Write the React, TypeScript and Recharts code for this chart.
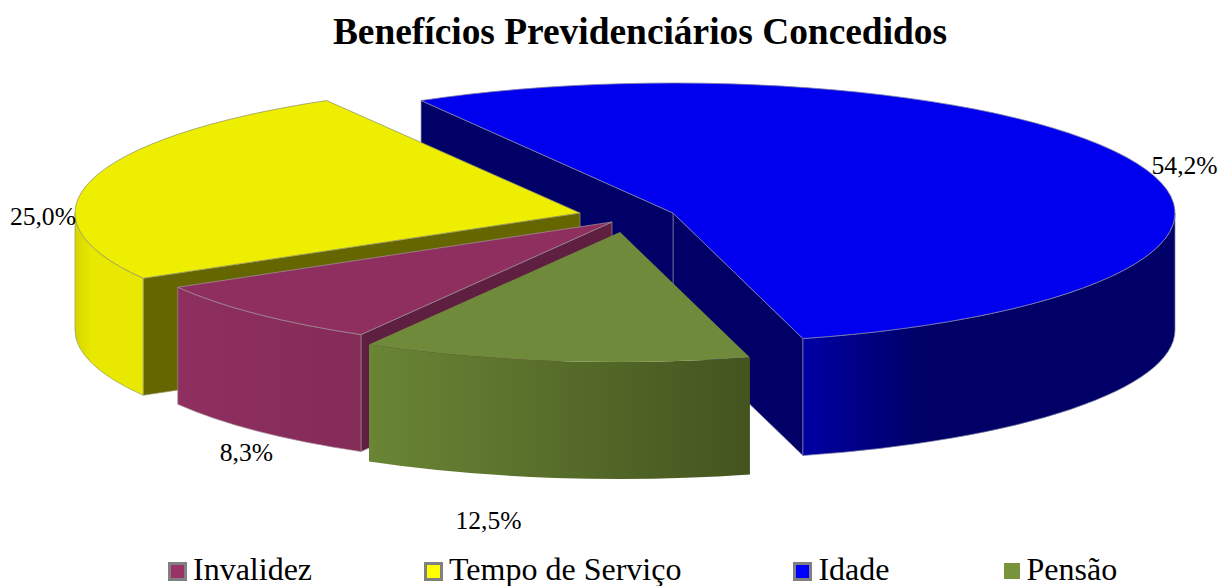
import { PieChart, Pie, Legend } from "recharts"

const categories = ["Idade", "Tempo de Serviço", "Invalidez", "Pensão"]
const percentages = [54.2, 25.0, 8.3, 12.5]
const legendOrder = ["Invalidez", "Tempo de Serviço", "Idade", "Pensão"]
const legendColors = ["#0000ff", "#ffff00", "#993366", "#77933c"]

const data = categories.map((name, i) => ({ name, value: percentages[i], legendColor: legendColors[i] }))

const FONT = "'Liberation Serif', 'Times New Roman', serif"
const RX = 502
const RY = 130
const DEPTH = 117

// per slice look: explosion offset, face colours and label nudge
const sliceStyle: Record<string, any> = {
  Idade: {
    dx: 33, dy: 0, rx: RX, top: "#0000ee", face: "#000066",
    wall: [[0, "#0000a4"], [0.32, "#000066"], [1, "#000066"]], labelDx: 48, labelDy: 2, edge: "#8080a8",
  },
  "Tempo de Serviço": {
    dx: -60, dy: 0, rx: 505, top: "#eeee00", face: "#666600",
    wall: [[0, "#d6d600"], [0.25, "#e8e800"], [1, "#e8e800"]], labelDx: -49, labelDy: 37, edge: "#999966",
  },
  Invalidez: {
    dx: -28, dy: 9, rx: RX, top: "#8e2f5f", face: "#5e1f40",
    wall: [[0, "#8e2f5f"], [1, "#852b58"]], labelDx: -11, labelDy: 138, edge: "#a08a96",
  },
  Pensão: {
    dx: -20, dy: 19, rx: RX, top: "#6f8a3a", face: "#4a5c26",
    wall: [[0, "#6a8535"], [1, "#44541f"]], labelDx: -66, labelDy: 160, edge: "none",
  },
}

const RAD = Math.PI / 180

function Wedge3D(props: any) {
  const { cx, cy, startAngle, endAngle, name } = props
  const s = sliceStyle[name]
  const ox = cx + s.dx
  const oy = cy + s.dy
  const rx = s.rx
  const pt = (a: number, drop = 0) => [ox + rx * Math.cos(a * RAD), oy - RY * Math.sin(a * RAD) + drop]
  const arc = (a: number, drop: number, sweep: number, large = 0) => {
    const [x, y] = pt(a, drop)
    return `A ${rx} ${RY} 0 ${large} ${sweep} ${x} ${y}`
  }
  const [sx, sy] = pt(startAngle)
  const large = endAngle - startAngle > 180 ? 1 : 0
  const topPath = `M ${ox} ${oy} L ${sx} ${sy} ${arc(endAngle, 0, 0, large)} Z`

  // the front half of the rim is what shows as the outer wall
  const walls: string[] = []
  for (const [lo, hi] of [[-180, 0], [180, 360]]) {
    const a1 = Math.max(lo, startAngle)
    const a2 = Math.min(hi, endAngle)
    if (a2 <= a1) continue
    const [x1, y1] = pt(a1)
    const [x2, y2] = pt(a2, DEPTH)
    const [x3, y3] = pt(a1, DEPTH)
    walls.push(`M ${x1} ${y1} ${arc(a2, 0, 0)} L ${x2} ${y2} A ${rx} ${RY} 0 0 1 ${x3} ${y3} Z`)
  }

  const radial = (a: number) => {
    const [x, y] = pt(a)
    return `M ${ox} ${oy} L ${x} ${y} L ${x} ${y + DEPTH} L ${ox} ${oy + DEPTH} Z`
  }
  const faces: string[] = []
  if (Math.cos(startAngle * RAD) > 0) faces.push(radial(startAngle))
  if (Math.cos(endAngle * RAD) < 0) faces.push(radial(endAngle))

  const gradId = `wall-${categories.indexOf(name)}`
  return (
    <g>
      <defs>
        <linearGradient id={gradId} x1="0" x2="1" y1="0" y2="0">
          {s.wall.map(([o, c]: any[]) => (
            <stop key={o} offset={o} stopColor={c} />
          ))}
        </linearGradient>
      </defs>
      {faces.map((d, i) => (
        <path key={i} d={d} fill={s.face} stroke={s.edge} strokeWidth={0.7} />
      ))}
      {walls.map((d, i) => (
        <path key={i} d={d} fill={`url(#${gradId})`} stroke={s.edge} strokeWidth={0.7} />
      ))}
      <path d={topPath} fill={s.top} stroke={s.edge} strokeWidth={0.8} />
    </g>
  )
}

function renderLabel(props: any) {
  const { cx, cy, midAngle, name, value } = props
  const s = sliceStyle[name]
  const x = cx + s.dx + s.rx * Math.cos(midAngle * RAD) + s.labelDx
  const y = cy + s.dy - RY * Math.sin(midAngle * RAD) + s.labelDy
  return (
    <text x={x} y={y} textAnchor="middle" dominantBaseline="central" fontFamily={FONT} fontSize={25.6} fill="#000">
      {value.toFixed(1).replace(".", ",") + "%"}
    </text>
  )
}

function LegendRow() {
  return (
    <div style={{ display: "flex", paddingLeft: 168, gap: 112, fontFamily: FONT, fontSize: 32, color: "#000", lineHeight: "36px" }}>
      {legendOrder.map((name) => {
        // Pensão has no grey frame in the original legend
        const framed = name !== "Pensão"
        return (
          <span key={name} style={{ display: "inline-flex", alignItems: "center" }}>
            <span
              style={{
                position: "relative",
                top: 2,
                width: framed ? 13 : 16,
                height: framed ? 13 : 16,
                border: framed ? "3px solid #808080" : "none",
                background: legendColors[categories.indexOf(name)],
                marginLeft: framed ? 0 : 3,
                marginRight: 6,
              }}
            />
            {name}
          </span>
        )
      })}
    </div>
  )
}

export default function App() {
  return (
    <div style={{ position: "absolute", left: 0, top: 0, width: 1221, height: 586, overflow: "hidden", background: "#fff" }}>
      <PieChart width={1221} height={586} margin={{ top: 0, right: 0, bottom: 0, left: 0 }}>
        <text x={640} y={31} textAnchor="middle" dominantBaseline="central" fontFamily={FONT} fontWeight="bold" fontSize={37.4}>
          Benefícios Previdenciários Concedidos
        </text>
        <Pie
          data={data}
          dataKey="value"
          nameKey="name"
          cx={640}
          cy={213}
          outerRadius={RX}
          startAngle={-75}
          endAngle={285}
          stroke="none"
          isAnimationActive={false}
          labelLine={false}
          label={renderLabel}
          shape={Wedge3D}
          inactiveShape={Wedge3D}
          activeShape={Wedge3D}
        />
        <Legend content={<LegendRow />} verticalAlign="bottom" wrapperStyle={{ left: 0, width: 1221, bottom: -1 }} />
      </PieChart>
    </div>
  )
}
